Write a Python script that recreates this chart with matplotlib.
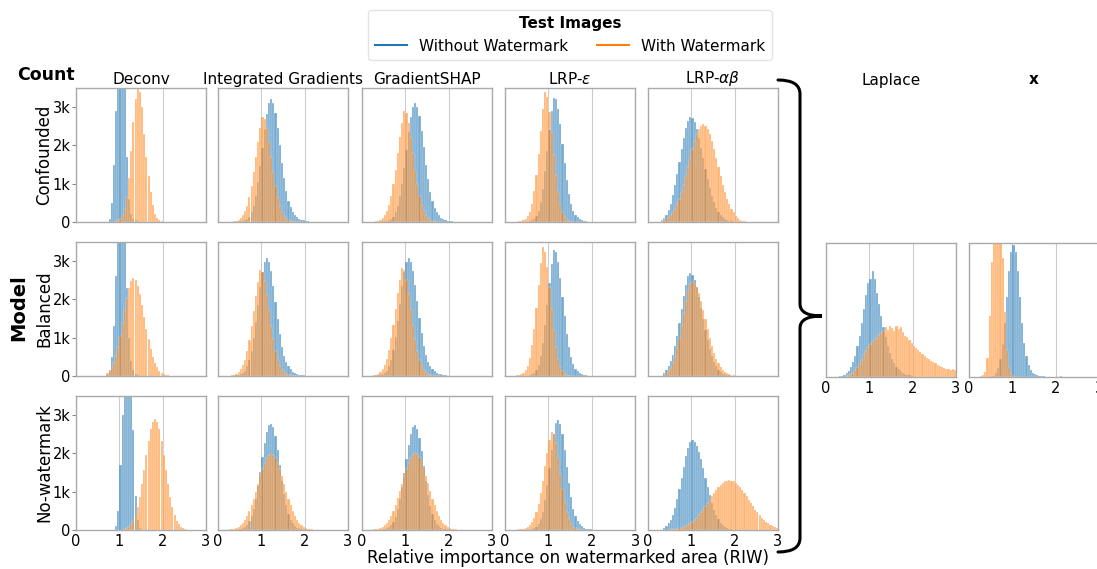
import numpy as np
import matplotlib
matplotlib.use("Agg")
import matplotlib.pyplot as plt
from matplotlib.lines import Line2D
from matplotlib.path import Path
from matplotlib.patches import PathPatch

# histogram counts, bin width 0.05; each series is (left edge of first bin, counts)
BIN = 0.05

# --- Confounded model ---
deconv_conf_wo = (0.75, [80, 500, 1500, 2900, 3800, 4200, 4100, 3700, 1700, 600, 220, 90, 40, 15])
deconv_conf_w = (0.90, [20, 40, 90, 180, 350, 650, 1150, 1850, 2600, 3200, 3500, 3400, 3000, 2300,
                        1700, 1200, 780, 450, 220, 100, 40, 15])
ig_conf_wo = (0.30, [5, 8, 10, 15, 20, 30, 45, 75, 140, 260, 430, 690, 1040, 1470, 1940, 2420, 2820, 3100,
                     3200, 3100, 2850, 2450, 2000, 1550, 1150, 800, 550, 380, 260, 180, 120, 85, 60, 40,
                     28, 18, 12, 8, 5])
ig_conf_w = (0.20, [5, 8, 12, 20, 35, 60, 100, 170, 280, 430, 650, 950, 1300, 1700, 2100, 2450, 2750, 2700,
                    2450, 2100, 1700, 1300, 950, 650, 420, 260, 160, 95, 55, 32, 20, 12, 8, 5])
gs_conf_wo = (0.30, [5, 8, 10, 15, 20, 30, 45, 75, 140, 250, 420, 670, 1000, 1420, 1880, 2350, 2740, 3000,
                     3100, 3000, 2760, 2380, 1950, 1500, 1120, 780, 540, 370, 250, 170, 115, 80, 55, 38,
                     26, 17, 11, 7, 5])
gs_conf_w = (0.15, [5, 8, 12, 20, 35, 60, 105, 180, 295, 450, 680, 1000, 1370, 1790, 2210, 2580, 2900, 2850,
                    2580, 2210, 1790, 1370, 1000, 680, 440, 275, 170, 100, 58, 34, 21, 13, 8, 5])
lrpe_conf_wo = (0.45, [5, 10, 20, 40, 80, 160, 300, 530, 870, 1320, 1850, 2400, 2900, 3250, 3200, 2950, 2550,
                       2050, 1550, 1100, 740, 480, 300, 190, 120, 75, 48, 30, 20, 12, 7, 4])
lrpe_conf_w = (0.25, [10, 18, 30, 50, 85, 150, 270, 480, 800, 1230, 1780, 2380, 2950, 3400, 3260, 2880, 2350,
                      1760, 1220, 780, 460, 250, 125, 60, 28, 13, 6])
lrpab_conf_wo = (0.30, [60, 110, 190, 310, 480, 700, 960, 1260, 1580, 1900, 2200, 2450, 2650, 2750, 2710,
                        2600, 2425, 2200, 1945, 1670, 1390, 1130, 895, 685, 510, 370, 260, 180, 120, 80,
                        50, 30, 18, 10])
lrpab_conf_w = (0.30, [36, 56, 84, 122, 180, 250, 345, 465, 610, 780, 975, 1195, 1430, 1665, 1900, 2110, 2290,
                       2430, 2520, 2550, 2520, 2430, 2290, 2110, 1900, 1665, 1430, 1195, 975, 780, 610,
                       465, 345, 250, 150, 95, 60, 35, 20])

# --- Balanced model ---
deconv_bal_wo = (0.70, [30, 150, 500, 1300, 2600, 3800, 4300, 4300, 3800, 2300, 1000, 400, 150, 50, 20])
deconv_bal_w = (0.70, [72, 128, 215, 345, 525, 760, 1050, 1375, 1720, 2040, 2310, 2490, 2550, 2500, 2355,
                       2130, 1850, 1550, 1240, 955, 710, 505, 345, 227, 143, 87, 51, 28, 14])
ig_bal_wo = (0.20, [5, 8, 10, 14, 19, 29, 43, 72, 135, 250, 415, 665, 1000, 1415, 1865, 2330, 2710, 2980,
                    3080, 2980, 2740, 2360, 1920, 1490, 1100, 770, 530, 365, 250, 173, 115, 82, 58, 38,
                    27, 17, 12, 8, 5])
ig_bal_w = (0.15, [5, 8, 12, 20, 35, 60, 100, 170, 280, 430, 650, 950, 1300, 1700, 2100, 2450, 2770, 2720,
                   2470, 2120, 1720, 1310, 960, 650, 420, 260, 160, 95, 55, 32, 20, 12, 8, 5])
gs_bal_wo = (0.15, [5, 7, 10, 15, 20, 30, 45, 75, 140, 255, 420, 670, 1010, 1430, 1880, 2340, 2720, 2990,
                    3090, 2990, 2750, 2380, 1950, 1510, 1120, 790, 545, 375, 255, 175, 118, 84, 58, 40,
                    27, 18, 12, 8, 5])
gs_bal_w = (0.10, [5, 8, 12, 20, 35, 60, 105, 175, 290, 445, 670, 980, 1340, 1750, 2160, 2520, 2820, 2770,
                   2510, 2150, 1750, 1330, 970, 660, 425, 265, 162, 96, 56, 33, 20, 12, 8, 5])
lrpe_bal_wo = (0.45, [5, 10, 20, 40, 80, 160, 300, 530, 870, 1320, 1860, 2420, 2930, 3290, 3230, 2970, 2570,
                      2070, 1560, 1110, 750, 490, 305, 195, 122, 76, 48, 30, 20, 12, 7, 4])
lrpe_bal_w = (0.20, [10, 18, 30, 50, 85, 150, 270, 480, 800, 1230, 1780, 2380, 2950, 3370, 3230, 2860, 2330,
                     1750, 1210, 770, 455, 248, 124, 60, 28, 13, 6])
lrpab_bal_wo = (0.35, [80, 150, 260, 400, 560, 780, 1050, 1380, 1740, 2080, 2380, 2600, 2690, 2650, 2520,
                       2320, 2065, 1780, 1485, 1195, 935, 705, 515, 365, 250, 165, 105, 65, 40, 25, 15])
lrpab_bal_w = (0.40, [69, 122, 208, 330, 505, 730, 1005, 1320, 1650, 1960, 2220, 2390, 2450, 2415, 2320,
                      2160, 1960, 1730, 1490, 1240, 1005, 795, 610, 455, 330, 233, 160, 108, 71, 44, 27,
                      16, 10])

# --- No-watermark model ---
deconv_nw_wo = (0.90, [100, 500, 1700, 3000, 4800, 5500, 5200, 4500, 2600, 900, 250, 60])
deconv_nw_w = (1.10, [22, 44, 82, 145, 245, 390, 600, 865, 1190, 1560, 1955, 2320, 2630, 2830, 2900, 2830,
                      2630, 2320, 1955, 1560, 1190, 865, 600, 390, 245, 145, 82, 44, 22])
ig_nw_wo = (0.40, [10, 18, 30, 50, 85, 140, 225, 360, 560, 820, 1150, 1520, 1900, 2260, 2550, 2730, 2780,
                   2690, 2450, 2100, 1690, 1290, 930, 640, 420, 270, 170, 105, 65, 40, 25, 15, 9, 5])
ig_nw_w = (0.25, [14, 22, 36, 57, 87, 130, 188, 268, 370, 495, 645, 815, 1000, 1200, 1400, 1585, 1745, 1875,
                  1950, 1980, 1960, 1890, 1760, 1600, 1410, 1210, 1000, 815, 645, 495, 370, 268, 188, 130,
                  87, 57, 36, 22, 14, 8])
gs_nw_wo = (0.40, [10, 17, 28, 48, 82, 135, 220, 350, 545, 800, 1120, 1490, 1860, 2220, 2500, 2680, 2730,
                   2640, 2400, 2060, 1660, 1270, 910, 625, 410, 265, 165, 102, 63, 39, 24, 14, 8, 5])
gs_nw_w = (0.25, [14, 22, 36, 58, 88, 132, 190, 272, 375, 500, 650, 825, 1010, 1210, 1415, 1600, 1760, 1890,
                  1970, 2000, 1975, 1900, 1775, 1610, 1420, 1220, 1010, 820, 650, 500, 375, 270, 190, 131,
                  88, 58, 36, 22, 14, 8])
lrpe_nw_wo = (0.50, [5, 10, 20, 40, 80, 150, 280, 480, 780, 1170, 1630, 2100, 2520, 2800, 2880, 2780, 2500,
                     2100, 1650, 1220, 850, 560, 360, 230, 145, 92, 58, 37, 24, 15, 9, 5])
lrpe_nw_w = (0.25, [8, 14, 22, 35, 55, 85, 130, 200, 310, 470, 690, 960, 1290, 1660, 2020, 2340, 2560, 2500,
                    2260, 1900, 1480, 1080, 740, 470, 280, 160, 88, 48, 25, 13, 7])
lrpab_nw_wo = (0.35, [55, 100, 170, 265, 400, 585, 810, 1070, 1360, 1655, 1925, 2145, 2290, 2340, 2305, 2205,
                      2050, 1845, 1615, 1370, 1130, 905, 700, 530, 390, 275, 190, 126, 82, 52, 32, 20, 12])
lrpab_nw_w = (0.50, [15, 20, 28, 38, 50, 65, 86, 110, 140, 176, 217, 268, 324, 387, 458, 534, 616, 701, 789,
                     876, 961, 1041, 1114, 1178, 1230, 1269, 1292, 1300, 1292, 1269, 1230, 1178, 1114,
                     1041, 961, 876, 789, 701, 616, 534, 458, 387, 320, 265, 215, 175, 140, 110, 80, 60])

# --- extra panels (Balanced) ---
laplace_wo = (0.25, [10, 20, 35, 60, 100, 160, 250, 390, 560, 800, 1080, 1420, 1780, 2150, 2450, 2550, 2780,
                     2550, 2200, 1900, 1600, 1300, 1050, 820, 630, 480, 360, 270, 200, 150, 110, 80, 55,
                     40, 28, 20, 13, 8])
laplace_w = (0.45, [20, 40, 70, 110, 170, 250, 350, 450, 580, 680, 780, 870, 930, 980, 1020, 1100, 1150,
                    1200, 1310, 1240, 1340, 1280, 1200, 1330, 1260, 1300, 1180, 1080, 1050, 960, 880, 820,
                    750, 700, 640, 600, 560, 500, 470, 420, 380, 360, 310, 290, 270, 240, 220, 200, 190,
                    210, 180])
x_wo = (0.50, [14, 38, 100, 228, 465, 860, 1420, 2095, 2765, 3265, 3450, 3265, 2765, 2095, 1420, 900, 540,
               310, 180, 110, 70, 50, 35, 25, 18, 12, 8, 5, 3, 2, 2, 2, 15, 2])
x_w = (0.20, [10, 25, 50, 130, 500, 1600, 3000, 4300, 5200, 5300, 4400, 3100, 1700, 700, 250, 90, 30, 10])

methods = ["Deconv", "Integrated Gradients", "GradientSHAP", "LRP-$\\epsilon$", "LRP-$\\alpha\\beta$"]
models = ["Confounded", "Balanced", "No-watermark"]
grid_data = [
    [(deconv_conf_wo, deconv_conf_w), (ig_conf_wo, ig_conf_w), (gs_conf_wo, gs_conf_w),
     (lrpe_conf_wo, lrpe_conf_w), (lrpab_conf_wo, lrpab_conf_w)],
    [(deconv_bal_wo, deconv_bal_w), (ig_bal_wo, ig_bal_w), (gs_bal_wo, gs_bal_w),
     (lrpe_bal_wo, lrpe_bal_w), (lrpab_bal_wo, lrpab_bal_w)],
    [(deconv_nw_wo, deconv_nw_w), (ig_nw_wo, ig_nw_w), (gs_nw_wo, gs_nw_w),
     (lrpe_nw_wo, lrpe_nw_w), (lrpab_nw_wo, lrpab_nw_w)],
]
extra_titles = ["Laplace", "x"]
extra_data = [(laplace_wo, laplace_w), (x_wo, x_w)]

BLUE = "#1f77b4"
ORANGE = "#ff7f0e"
W, H = 1097, 569


def draw_hist(ax, series, color, alpha):
    start, counts = series
    edges = start + BIN * np.arange(len(counts))
    ax.bar(edges, counts, width=BIN, align="edge", color=color, alpha=alpha,
           edgecolor=(1, 1, 1, 0.12), linewidth=0.3)


def style(ax, xlabels, ylabels):
    ax.set_xlim(0, 3)
    ax.set_ylim(0, 3500)
    ax.set_xticks([0, 1, 2, 3])
    ax.set_yticks([0, 1000, 2000, 3000])
    ax.tick_params(axis="x", length=0, labelsize=10.5, pad=3)
    ax.tick_params(axis="y", length=3 if ylabels else 0, width=0.8, color="#888888",
                   labelsize=10.5, pad=1)
    ax.set_xticklabels(["0", "1", "2", "3"] if xlabels else [])
    ax.set_yticklabels(["0", "1k", "2k", "3k"] if ylabels else [])
    ax.grid(axis="x", color="#cccccc", linewidth=0.8)
    ax.set_axisbelow(True)
    for s in ax.spines.values():
        s.set_color("#aaaaaa")
        s.set_linewidth(1.0)


def add_axes(fig, x0, y0, w=130, h=134):
    return fig.add_axes([x0 / W, 1 - (y0 + h) / H, w / W, h / H])


fig = plt.figure(figsize=(W / 100, H / 100), dpi=100)

col_x = [76, 218, 362, 505, 648]
row_y = [88, 242, 396]
for r, model in enumerate(models):
    for c, method in enumerate(methods):
        ax = add_axes(fig, col_x[c], row_y[r])
        wo, w = grid_data[r][c]
        draw_hist(ax, wo, BLUE, 0.62)
        draw_hist(ax, w, ORANGE, 0.58)
        style(ax, xlabels=(r == 2), ylabels=(c == 0))
        if r == 0:
            ax.set_title(method, fontsize=11, pad=3)
        if c == 0:
            ax.set_ylabel(model, fontsize=12)
            ax.yaxis.set_label_coords((53 - 76) / 130, 0.5)

extra_x = [826, 969]
for i, (name, (wo, w)) in enumerate(zip(extra_titles, extra_data)):
    ax = add_axes(fig, extra_x[i], 243)
    draw_hist(ax, wo, BLUE, 0.62)
    draw_hist(ax, w, ORANGE, 0.58)
    style(ax, xlabels=True, ylabels=False)
    fig.text((extra_x[i] + 65) / W, 1 - 80 / H, name, ha="center", va="center", fontsize=11,
             fontweight="bold" if name == "x" else "normal")

fig.text(46 / W, 1 - 75 / H, "Count", ha="center", va="center", fontsize=12.5, fontweight="bold")
fig.text(19 / W, 1 - 308 / H, "Model", ha="center", va="center", fontsize=14, fontweight="bold",
         rotation=90)
fig.text(568 / W, 1 - 558 / H, "Relative importance on watermarked area (RIW)", ha="center",
         va="center", fontsize=12)

# curly brace joining the grid to the extra panels
pts = [(778, 80), (800, 80), (800, 94), (800, 304), (800, 316), (822, 316),
       (800, 316), (800, 328), (800, 538), (800, 552), (778, 552)]
codes = [Path.MOVETO, Path.CURVE3, Path.CURVE3, Path.LINETO, Path.CURVE3, Path.CURVE3,
         Path.CURVE3, Path.CURVE3, Path.LINETO, Path.CURVE3, Path.CURVE3]
verts = [(x / W, 1 - y / H) for x, y in pts]
fig.patches.append(PathPatch(Path(verts, codes), transform=fig.transFigure, fill=False,
                             linewidth=2.2, edgecolor="black", capstyle="round"))

handles = [Line2D([], [], color=BLUE, lw=1.5), Line2D([], [], color=ORANGE, lw=1.5)]
fig.legend(handles, ["Without Watermark", "With Watermark"], title="Test Images", ncol=2,
           loc="upper center", bbox_to_anchor=(570 / W, 1 - 10 / H), fontsize=11,
           title_fontproperties={"weight": "bold", "size": 11}, frameon=True,
           edgecolor="#dddddd", columnspacing=1.9, handlelength=2.1, borderaxespad=0)

fig.savefig("out.png", dpi=100)
